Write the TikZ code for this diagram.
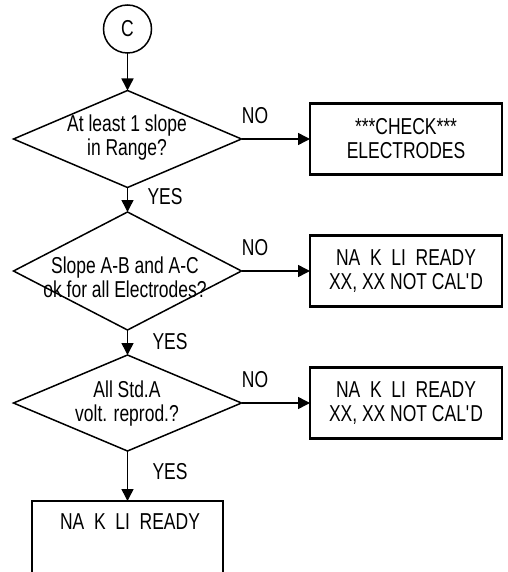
\documentclass[tikz,border=0pt]{standalone}
\usepackage{fontspec}
\setmainfont{Liberation Sans}[FakeStretch=0.76]
\usetikzlibrary{shapes.geometric,arrows.meta}
\begin{document}
\begin{tikzpicture}[x=1pt,y=-1pt,
  every node/.style={font=\fontsize{23}{24}\selectfont, inner sep=0pt, outer sep=0pt},
  decision/.style={draw, diamond, line width=1.5pt, minimum width=228pt},
  outbox/.style={draw, rectangle, line width=2.2pt, minimum width=192pt, minimum height=71pt, align=center},
  connector/.style={draw, circle, line width=1.5pt, minimum size=48pt},
  arr/.style={line width=1.5pt, -{Triangle[length=12pt,width=12pt]}},
  dtext/.style={align=center}
]
\useasboundingbox (0,0) rectangle (507,572);

% start connector
\node[connector] (c) at (127.5,29) {C};

% decisions
\node[decision, minimum height=97pt] (d1) at (127.5,139) {};
\node[dtext] (d1t) at (127,138) {At least 1 slope\\in Range?};
\node[decision, minimum height=118pt] (d2) at (127.5,271) {};
\node[dtext] (d2t) at (125,277) {Slope A-B and A-C\\ok for all Electrodes?};
\node[decision, minimum height=96pt] (d3) at (127.5,403) {};
\node[dtext] (d3t) at (127,404) {All Std.A\\volt. reprod.?};

% result boxes
\node[outbox] (b1) at (406,139) {***CHECK***\\ELECTRODES};
\node[outbox] (b2) at (406,271) {NA\ \ K\ \ LI\ \ READY\\XX, XX NOT CAL\textquotesingle D};
\node[outbox] (b3) at (406,403) {NA\ \ K\ \ LI\ \ READY\\XX, XX NOT CAL\textquotesingle D};
\node[draw, line width=2.2pt, minimum width=191pt, minimum height=100pt] (b4) at (127.5,551) {};
\node (b4t) at (130,522) {NA\ \ K\ \ LI\ \ READY};

% flow
\draw[arr] (c.south) -- (d1.north);
\draw[arr] (d1.south) -- (d2.north);
\draw[arr] (d2.south) -- (d3.north);
\draw[arr] (d3.south) -- (b4.north);
\draw[arr] (d1.east) -- (b1.west);
\draw[arr] (d2.east) -- (b2.west);
\draw[arr] (d3.east) -- (b3.west);

% branch labels
\node (no1) at (255,116) {NO};
\node (no2) at (255,248) {NO};
\node (no3) at (255,380) {NO};
\node (yes1) at (165,197) {YES};
\node (yes2) at (170,342) {YES};
\node (yes3) at (170,472) {YES};
\end{tikzpicture}
\end{document}
